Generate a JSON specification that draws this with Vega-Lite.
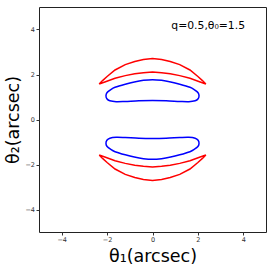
{
  "$schema": "https://vega.github.io/schema/vega-lite/v6.json",
  "width": 227,
  "height": 225,
  "autosize": {"type": "none"},
  "padding": {"left": 39, "top": 7, "right": 7, "bottom": 37},
  "background": "white",
  "config": {
    "view": {"stroke": "#222", "strokeWidth": 1},
    "axis": {"grid": false, "domain": false, "tickColor": "#333", "tickSize": 3, "labelFontSize": 6.5, "labelColor": "#333", "labelFont": "DejaVu Sans", "labelPadding": 1.5, "titleFont": "DejaVu Sans", "titleFontSize": 17.5, "titleFontWeight": "normal", "titleColor": "black"}
  },
  "datasets": {
    "curves": [
      {"curve": "caustic_up", "i": 0, "x": -2.35, "y": 1.58},
      {"curve": "caustic_up", "i": 1, "x": -2.2, "y": 1.73},
      {"curve": "caustic_up", "i": 2, "x": -2.0, "y": 1.91},
      {"curve": "caustic_up", "i": 3, "x": -1.65, "y": 2.2},
      {"curve": "caustic_up", "i": 4, "x": -1.2, "y": 2.44},
      {"curve": "caustic_up", "i": 5, "x": -0.78, "y": 2.58},
      {"curve": "caustic_up", "i": 6, "x": -0.4, "y": 2.67},
      {"curve": "caustic_up", "i": 7, "x": 0, "y": 2.71},
      {"curve": "caustic_up", "i": 8, "x": 0.4, "y": 2.67},
      {"curve": "caustic_up", "i": 9, "x": 0.78, "y": 2.58},
      {"curve": "caustic_up", "i": 10, "x": 1.2, "y": 2.44},
      {"curve": "caustic_up", "i": 11, "x": 1.65, "y": 2.2},
      {"curve": "caustic_up", "i": 12, "x": 2.0, "y": 1.91},
      {"curve": "caustic_up", "i": 13, "x": 2.2, "y": 1.73},
      {"curve": "caustic_up", "i": 14, "x": 2.35, "y": 1.58},
      {"curve": "caustic_up", "i": 15, "x": 2.1, "y": 1.67},
      {"curve": "caustic_up", "i": 16, "x": 1.65, "y": 1.83},
      {"curve": "caustic_up", "i": 17, "x": 1.2, "y": 1.95},
      {"curve": "caustic_up", "i": 18, "x": 0.78, "y": 2.03},
      {"curve": "caustic_up", "i": 19, "x": 0.4, "y": 2.08},
      {"curve": "caustic_up", "i": 20, "x": 0, "y": 2.11},
      {"curve": "caustic_up", "i": 21, "x": -0.4, "y": 2.08},
      {"curve": "caustic_up", "i": 22, "x": -0.78, "y": 2.03},
      {"curve": "caustic_up", "i": 23, "x": -1.2, "y": 1.95},
      {"curve": "caustic_up", "i": 24, "x": -1.65, "y": 1.83},
      {"curve": "caustic_up", "i": 25, "x": -2.1, "y": 1.67},
      {"curve": "caustic_up", "i": 26, "x": -2.35, "y": 1.58},

      {"curve": "caustic_dn", "i": 0, "x": -2.35, "y": -1.58},
      {"curve": "caustic_dn", "i": 1, "x": -2.2, "y": -1.73},
      {"curve": "caustic_dn", "i": 2, "x": -2.0, "y": -1.91},
      {"curve": "caustic_dn", "i": 3, "x": -1.65, "y": -2.2},
      {"curve": "caustic_dn", "i": 4, "x": -1.2, "y": -2.44},
      {"curve": "caustic_dn", "i": 5, "x": -0.78, "y": -2.58},
      {"curve": "caustic_dn", "i": 6, "x": -0.4, "y": -2.67},
      {"curve": "caustic_dn", "i": 7, "x": 0, "y": -2.71},
      {"curve": "caustic_dn", "i": 8, "x": 0.4, "y": -2.67},
      {"curve": "caustic_dn", "i": 9, "x": 0.78, "y": -2.58},
      {"curve": "caustic_dn", "i": 10, "x": 1.2, "y": -2.44},
      {"curve": "caustic_dn", "i": 11, "x": 1.65, "y": -2.2},
      {"curve": "caustic_dn", "i": 12, "x": 2.0, "y": -1.91},
      {"curve": "caustic_dn", "i": 13, "x": 2.2, "y": -1.73},
      {"curve": "caustic_dn", "i": 14, "x": 2.35, "y": -1.58},
      {"curve": "caustic_dn", "i": 15, "x": 2.1, "y": -1.67},
      {"curve": "caustic_dn", "i": 16, "x": 1.65, "y": -1.83},
      {"curve": "caustic_dn", "i": 17, "x": 1.2, "y": -1.95},
      {"curve": "caustic_dn", "i": 18, "x": 0.78, "y": -2.03},
      {"curve": "caustic_dn", "i": 19, "x": 0.4, "y": -2.08},
      {"curve": "caustic_dn", "i": 20, "x": 0, "y": -2.11},
      {"curve": "caustic_dn", "i": 21, "x": -0.4, "y": -2.08},
      {"curve": "caustic_dn", "i": 22, "x": -0.78, "y": -2.03},
      {"curve": "caustic_dn", "i": 23, "x": -1.2, "y": -1.95},
      {"curve": "caustic_dn", "i": 24, "x": -1.65, "y": -1.83},
      {"curve": "caustic_dn", "i": 25, "x": -2.1, "y": -1.67},
      {"curve": "caustic_dn", "i": 26, "x": -2.35, "y": -1.58}
    ],
    "critical": [
      {"curve": "crit_up", "i": 0, "x": -2.05, "y": 1.06},
      {"curve": "crit_up", "i": 1, "x": -2.0, "y": 1.2},
      {"curve": "crit_up", "i": 2, "x": -1.85, "y": 1.32},
      {"curve": "crit_up", "i": 3, "x": -1.65, "y": 1.43},
      {"curve": "crit_up", "i": 4, "x": -1.2, "y": 1.57},
      {"curve": "crit_up", "i": 5, "x": -0.8, "y": 1.67},
      {"curve": "crit_up", "i": 6, "x": -0.4, "y": 1.74},
      {"curve": "crit_up", "i": 7, "x": 0, "y": 1.77},
      {"curve": "crit_up", "i": 8, "x": 0.4, "y": 1.74},
      {"curve": "crit_up", "i": 9, "x": 0.8, "y": 1.67},
      {"curve": "crit_up", "i": 10, "x": 1.2, "y": 1.57},
      {"curve": "crit_up", "i": 11, "x": 1.65, "y": 1.43},
      {"curve": "crit_up", "i": 12, "x": 1.85, "y": 1.32},
      {"curve": "crit_up", "i": 13, "x": 2.0, "y": 1.2},
      {"curve": "crit_up", "i": 14, "x": 2.05, "y": 1.06},
      {"curve": "crit_up", "i": 15, "x": 2.01, "y": 0.92},
      {"curve": "crit_up", "i": 16, "x": 1.88, "y": 0.83},
      {"curve": "crit_up", "i": 17, "x": 1.6, "y": 0.79},
      {"curve": "crit_up", "i": 18, "x": 1.2, "y": 0.8},
      {"curve": "crit_up", "i": 19, "x": 0.6, "y": 0.83},
      {"curve": "crit_up", "i": 20, "x": 0, "y": 0.84},
      {"curve": "crit_up", "i": 21, "x": -0.6, "y": 0.83},
      {"curve": "crit_up", "i": 22, "x": -1.2, "y": 0.8},
      {"curve": "crit_up", "i": 23, "x": -1.6, "y": 0.79},
      {"curve": "crit_up", "i": 24, "x": -1.88, "y": 0.83},
      {"curve": "crit_up", "i": 25, "x": -2.01, "y": 0.92},

      {"curve": "crit_dn", "i": 0, "x": -2.05, "y": -1.06},
      {"curve": "crit_dn", "i": 1, "x": -2.0, "y": -1.2},
      {"curve": "crit_dn", "i": 2, "x": -1.85, "y": -1.32},
      {"curve": "crit_dn", "i": 3, "x": -1.65, "y": -1.43},
      {"curve": "crit_dn", "i": 4, "x": -1.2, "y": -1.57},
      {"curve": "crit_dn", "i": 5, "x": -0.8, "y": -1.67},
      {"curve": "crit_dn", "i": 6, "x": -0.4, "y": -1.74},
      {"curve": "crit_dn", "i": 7, "x": 0, "y": -1.77},
      {"curve": "crit_dn", "i": 8, "x": 0.4, "y": -1.74},
      {"curve": "crit_dn", "i": 9, "x": 0.8, "y": -1.67},
      {"curve": "crit_dn", "i": 10, "x": 1.2, "y": -1.57},
      {"curve": "crit_dn", "i": 11, "x": 1.65, "y": -1.43},
      {"curve": "crit_dn", "i": 12, "x": 1.85, "y": -1.32},
      {"curve": "crit_dn", "i": 13, "x": 2.0, "y": -1.2},
      {"curve": "crit_dn", "i": 14, "x": 2.05, "y": -1.06},
      {"curve": "crit_dn", "i": 15, "x": 2.01, "y": -0.92},
      {"curve": "crit_dn", "i": 16, "x": 1.88, "y": -0.83},
      {"curve": "crit_dn", "i": 17, "x": 1.6, "y": -0.79},
      {"curve": "crit_dn", "i": 18, "x": 1.2, "y": -0.8},
      {"curve": "crit_dn", "i": 19, "x": 0.6, "y": -0.83},
      {"curve": "crit_dn", "i": 20, "x": 0, "y": -0.84},
      {"curve": "crit_dn", "i": 21, "x": -0.6, "y": -0.83},
      {"curve": "crit_dn", "i": 22, "x": -1.2, "y": -0.8},
      {"curve": "crit_dn", "i": 23, "x": -1.6, "y": -0.79},
      {"curve": "crit_dn", "i": 24, "x": -1.88, "y": -0.83},
      {"curve": "crit_dn", "i": 25, "x": -2.01, "y": -0.92}
    ],
    "label": [
      {"text": "q=0.5,θ₀=1.5", "x": 0.83, "y": 4.16}
    ]
  },
  "layer": [
    {
      "data": {"name": "curves"},
      "mark": {"type": "line", "color": "#ff0000", "strokeWidth": 1.5, "interpolate": "linear"},
      "encoding": {
        "x": {"field": "x", "type": "quantitative", "scale": {"domain": [-5, 5], "nice": false, "zero": false},
              "axis": {"values": [-4, -2, 0, 2, 4], "title": "θ₁(arcsec)", "titleAlign": "center", "titleX": 113.5, "titleY": 29, "titleBaseline": "alphabetic"}},
        "y": {"field": "y", "type": "quantitative", "scale": {"domain": [-5, 5], "nice": false, "zero": false},
              "axis": {"values": [-4, -2, 0, 2, 4], "title": "θ₂(arcsec)", "titleAngle": -90, "titleAlign": "center", "titleX": -21, "titleY": 112.5, "titleBaseline": "alphabetic"}},
        "detail": {"field": "curve"},
        "order": {"field": "i", "type": "quantitative"}
      }
    },
    {
      "data": {"name": "critical"},
      "mark": {"type": "line", "color": "#0000ff", "strokeWidth": 1.5, "interpolate": "cardinal-closed"},
      "encoding": {
        "x": {"field": "x", "type": "quantitative"},
        "y": {"field": "y", "type": "quantitative"},
        "detail": {"field": "curve"},
        "order": {"field": "i", "type": "quantitative"}
      }
    },
    {
      "data": {"name": "label"},
      "mark": {"type": "text", "align": "left", "baseline": "middle", "font": "DejaVu Sans", "fontSize": 10.8, "color": "black"},
      "encoding": {
        "x": {"field": "x", "type": "quantitative"},
        "y": {"field": "y", "type": "quantitative"},
        "text": {"field": "text"}
      }
    }
  ]
}
